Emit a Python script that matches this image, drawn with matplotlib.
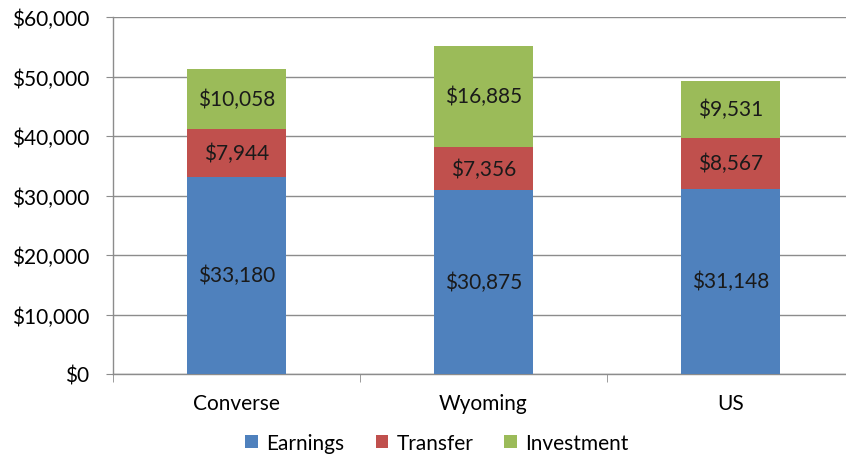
import numpy as np
import matplotlib
matplotlib.use("Agg")
import matplotlib.pyplot as plt
from matplotlib.ticker import FuncFormatter, FixedLocator

plt.rcParams["font.family"] = ["Lato", "DejaVu Sans"]

categories = ["Converse", "Wyoming", "US"]
earnings = [33180, 30875, 31148]
transfer = [7944, 7356, 8567]
investment = [10058, 16885, 9531]

colors = {"Earnings": "#4F81BD", "Transfer": "#C0504D", "Investment": "#9BBB59"}
series = [("Earnings", earnings), ("Transfer", transfer), ("Investment", investment)]
fs = 15

fig = plt.figure(figsize=(8.46, 4.56), dpi=100)
ax = fig.add_axes([113 / 846, 1 - 375 / 456, 733 / 846, (375 - 18) / 456])

x = np.arange(len(categories))
bottom = np.zeros(len(categories))
for name, vals in series:
    vals = np.array(vals)
    ax.bar(x, vals, width=0.4, bottom=bottom, color=colors[name], label=name, zorder=3)
    for xi, b, v in zip(x, bottom, vals):
        ax.text(xi, b + v / 2, "${:,.0f}".format(v), ha="center", va="center",
                fontsize=fs, color="#1a1a1a", zorder=4)
    bottom = bottom + vals

ax.set_xlim(-0.5, -0.5 + 733 / 247)
ax.set_ylim(0, 60000)
ax.set_yticks(np.arange(0, 60001, 10000))
ax.yaxis.set_major_formatter(FuncFormatter(lambda v, p: "${:,.0f}".format(v)))
ax.set_xticks(x)
ax.set_xticklabels(categories)
ax.xaxis.set_minor_locator(FixedLocator([-0.5, 0.5, 1.5, 2.5]))

ax.grid(axis="y", color="#8c8c8c", linewidth=1, zorder=0)
for s in ["top", "right"]:
    ax.spines[s].set_visible(False)
for s in ["left", "bottom"]:
    ax.spines[s].set_color("#8c8c8c")
    ax.spines[s].set_linewidth(1)

ax.tick_params(axis="y", length=5, color="#8c8c8c", labelsize=fs, pad=12)
ax.tick_params(axis="x", which="major", length=0, labelsize=fs, pad=14)
ax.tick_params(axis="x", which="minor", length=6, color="#8c8c8c")

ax.legend(loc="center", bbox_to_anchor=(0.442, -69 / 357), ncol=3, frameon=False,
          fontsize=fs, handlelength=0.6, handleheight=0.6, handletextpad=0.4, columnspacing=1.5)

fig.savefig("out.png", dpi=100)
